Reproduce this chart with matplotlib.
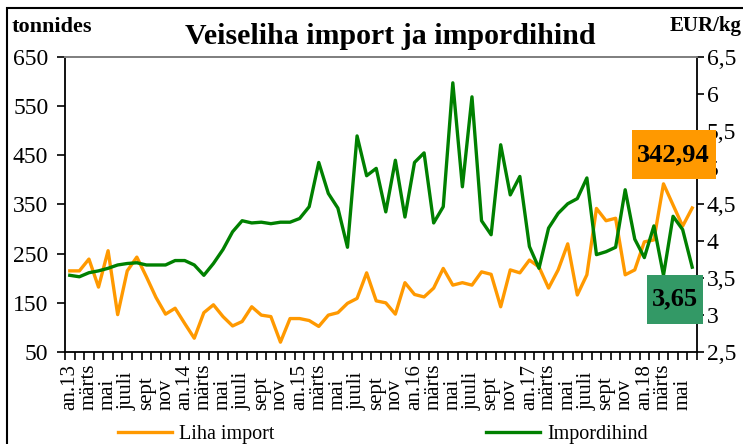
import numpy as np
import matplotlib.pyplot as plt
import matplotlib.transforms as mtransforms
from matplotlib.patches import Rectangle

# monthly data, jan 2013 .. jun 2018
import_t = [215, 215, 239, 182, 256, 126, 215, 243, 203, 161, 127, 139,
            108, 78, 130, 146, 122, 103, 112, 142, 125, 122, 70, 118,
            118, 114, 102, 125, 130, 149, 159, 211, 154, 150, 127, 191,
            167, 162, 180, 220, 186, 191, 186, 213, 208, 142, 217, 211,
            237, 223, 180, 217, 270, 166, 207, 342, 317, 322, 207, 217,
            274, 278, 392, 349, 306, 342.94]
price = [3.54, 3.52, 3.575, 3.60, 3.635, 3.68, 3.70, 3.71, 3.68, 3.68, 3.68, 3.74,
         3.74, 3.68, 3.54, 3.70, 3.89, 4.13, 4.28, 4.25, 4.26, 4.24, 4.26, 4.26,
         4.31, 4.47, 5.07, 4.65, 4.45, 3.92, 5.43, 4.89, 4.99, 4.40, 5.10, 4.33,
         5.07, 5.20, 4.25, 4.47, 6.15, 4.74, 5.96, 4.28, 4.09, 5.31, 4.63, 4.88,
         3.93, 3.635, 4.18, 4.38, 4.51, 4.58, 4.86, 3.82, 3.86, 3.92, 4.70, 4.03,
         3.78, 4.21, 3.54, 4.34, 4.16, 3.65]
month_names = ['an', 'märts', 'mai', 'juuli', 'sept', 'nov']
years = ['13', '14', '15', '16', '17', '18']

left_ticks = [50, 150, 250, 350, 450, 550, 650]
right_ticks = [2.5, 3, 3.5, 4, 4.5, 5, 5.5, 6, 6.5]

plt.rcParams['font.family'] = ['Liberation Serif', 'DejaVu Serif']

W, H = 743, 444
fig = plt.figure(figsize=(W / 100, H / 100), dpi=100)


def fx(px):
    return px / W


def fy(py):
    return 1 - py / H


ax = fig.add_axes([fx(65), fy(352), fx(697) - fx(65), fy(57) - fy(352)])
ax2 = ax.twinx()

x = np.arange(len(import_t))
l1, = ax.plot(x, import_t, color='#FF9900', lw=2.4)
l2, = ax2.plot(x, price, color='#008000', lw=2.4)

ax.set_xlim(-0.5, len(x) - 0.5)
ax.set_ylim(50, 650)
ax.set_yticks(left_ticks)
ax2.set_ylim(2.5, 6.5)
ax2.set_yticks(right_ticks)
ax2.set_yticklabels([('%g' % v).replace('.', ',') for v in right_ticks])

ax.set_xticks(np.arange(-0.5, len(x), 1))
ax.set_xticklabels([])

ax.tick_params(axis='y', direction='out', length=6, width=1.2, labelsize=17, pad=6)
ax.tick_params(axis='x', direction='out', length=6, width=1.2)
ax2.tick_params(axis='y', direction='out', length=5, width=1.2, labelsize=17, pad=2)

for a in (ax, ax2):
    for s in a.spines.values():
        s.set_linewidth(1.3)
ax.spines['right'].set_visible(False)
ax2.spines['left'].set_visible(False)
ax2.spines['bottom'].set_visible(False)
ax.spines['top'].set_color('#808080')
ax2.spines['top'].set_color('#808080')

# month labels, every second month
trans = mtransforms.blended_transform_factory(ax.transData, fig.transFigure)
for i in range(0, len(x), 2):
    m = month_names[(i % 12) // 2]
    if m == 'an':
        m = 'an.' + years[i // 12]
    ax.text(i, fy(410), m, transform=trans, rotation=90, ha='center',
            va='bottom', fontsize=15)

fig.text(fx(390), fy(37), 'Veiseliha import ja impordihind', ha='center',
         va='center', fontsize=21.5, fontweight='bold')
fig.text(fx(12), fy(27), 'tonnides', ha='left', va='center', fontsize=16,
         fontweight='bold')
fig.text(fx(742), fy(26), 'EUR/kg', ha='right', va='center', fontsize=15,
         fontweight='bold')

fig.legend([l1, l2], ['Liha import', 'Impordihind'], loc='center',
           bbox_to_anchor=(fx(383), fy(434)), ncol=2, frameon=False,
           fontsize=14.5, handlelength=2.7, handletextpad=0.35,
           columnspacing=10.5, borderpad=0.1)

# last value labels
fig.add_artist(Rectangle((fx(632), fy(179)), fx(716) - fx(632), fy(130) - fy(179),
                         transform=fig.transFigure, facecolor='#FF9900',
                         edgecolor='none', zorder=5))
fig.text(fx(673), fy(155), ('%.2f' % import_t[-1]).replace('.', ','),
         ha='center', va='center', fontsize=19, fontweight='bold', zorder=6)
fig.add_artist(Rectangle((fx(647), fy(324)), fx(703) - fx(647), fy(275) - fy(324),
                         transform=fig.transFigure, facecolor='#339966',
                         edgecolor='none', zorder=5))
fig.text(fx(675), fy(299), ('%.2f' % price[-1]).replace('.', ','),
         ha='center', va='center', fontsize=19, fontweight='bold', zorder=6)

# chart border
fig.add_artist(Rectangle((fx(7), fy(460)), fx(760) - fx(7), fy(8) - fy(460),
                         transform=fig.transFigure, fill=False,
                         edgecolor='black', lw=1.5, zorder=4))

fig.savefig('out.png', dpi=100)
